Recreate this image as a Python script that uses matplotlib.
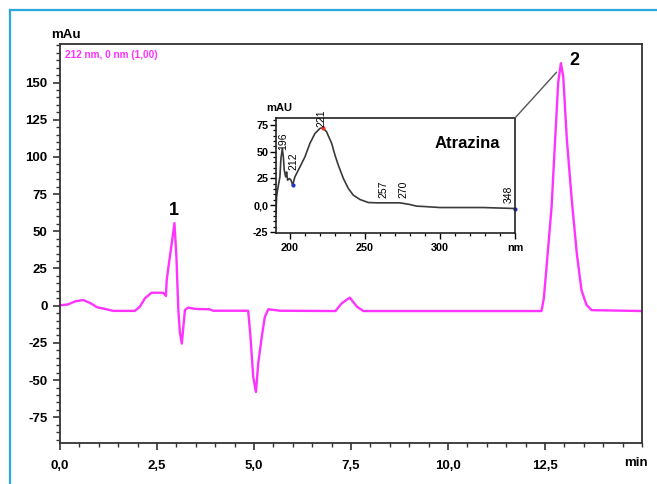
import matplotlib
matplotlib.use('Agg')
import matplotlib.pyplot as plt
from matplotlib.ticker import MultipleLocator, FuncFormatter, FixedLocator
from matplotlib.patches import ConnectionPatch
from matplotlib.lines import Line2D

plt.rcParams['font.family'] = ['Liberation Sans', 'DejaVu Sans']

# ---------------- data: chromatogram (212 nm) ----------------
time_min = [0.0, 0.2, 0.4, 0.6, 0.8, 0.95, 1.2, 1.37, 1.93, 2.06, 2.19, 2.36, 2.66,
            2.73, 2.75, 2.79, 2.88, 2.95, 3.00, 3.05, 3.09, 3.14, 3.18, 3.22, 3.30,
            3.50, 3.85, 3.95, 4.85, 4.91, 4.98, 5.05, 5.11, 5.20, 5.28, 5.37, 5.67,
            7.10, 7.26, 7.47, 7.65, 7.82, 12.41, 12.47, 12.54, 12.67, 12.76, 12.84,
            12.91, 12.97, 13.06, 13.19, 13.32, 13.44, 13.57, 13.70, 15.0]
signal_mau = [0.3, 0.8, 3.0, 3.8, 1.5, -1.0, -2.4, -3.5, -3.5, -0.6, 5.0, 8.7, 8.7,
              6.5, 17, 25, 42, 55.5, 33, -3, -18, -25.5, -14, -3, -1.3,
              -2.2, -2.4, -3.4, -3.4, -21, -48, -58, -38.5, -21, -7.4, -2.4, -3.4,
              -3.6, 1.6, 5.4, -0.6, -3.6, -3.6, 5, 26, 66.5, 111, 150,
              163, 154, 113, 71, 35, 10.5, 0.5, -3.0, -3.6]

peak_labels = ['1', '2']
peak_label_time = [2.94, 13.25]
peak_label_val = [64, 165]

main_xticks = [0.0, 2.5, 5.0, 7.5, 10.0, 12.5]
main_yticks = [-75, -50, -25, 0, 25, 50, 75, 100, 125, 150]

# ---------------- data: UV spectrum of Atrazina ----------------
wl_nm = [190.7, 191.1, 191.6, 193.3, 194.0, 194.9, 195.6, 196.2, 197.1, 197.8,
         198.4, 199.6, 200.7, 201.8, 203.3, 206.7, 210.0, 213.3, 216.7, 220.0,
         221.8, 224.4, 227.8, 230.0, 232.2, 235.6, 238.9, 242.2, 246.7, 252.2,
         257.8, 273.3, 280.0, 284.4, 288.9, 300.0, 328.9, 350.0]
absorb = [-7.8, 7.8, 13, 26.5, 43.7, 53, 45, 32.8, 26.5, 31,
          23.4, 24.9, 23.4, 18.7, 26.5, 35.9, 45.2, 57.8, 67.1, 71.8,
          72.4, 68.6, 57.8, 46.8, 37.5, 25, 15.6, 9.4, 5.3, 2.5,
          2.2, 2.2, 0.6, -0.9, -1.2, -2.2, -2.2, -3.1]

spec_labels = ['196', '212', '221', '257', '270', '348']
spec_label_x = [195.6, 202.2, 221.1, 262.2, 275.6, 345.6]
spec_label_y = [52.0, 32.5, 73.0, 6.5, 6.5, 2.0]

inset_xticks = [200, 250, 300, 350]
inset_xticklabels = ['200', '250', '300', 'nm']
inset_yticks = [-25, 0, 25, 50, 75]
inset_yticklabels = ['-25', '0,0', '25', '50', '75']

# ---------------- figure ----------------
W, H = 657, 484
fig = plt.figure(figsize=(W / 100, H / 100), dpi=100)

# blue frame (left and top)
blue = '#29A9E0'
fig.add_artist(Line2D([10 / W, 10 / W], [0, 1 - 10 / H], color=blue, lw=1.6))
fig.add_artist(Line2D([10 / W, 1], [1 - 10 / H, 1 - 10 / H], color=blue, lw=1.6))

ax = fig.add_axes([60 / W, 1 - 443 / H, (642 - 60) / W, (443 - 44) / H])
ax.plot(time_min, signal_mau, color='#FF33FF', lw=1.7, solid_joinstyle='round')
ax.set_xlim(0, 15)
ax.set_ylim(-92.3, 175.9)
ax.xaxis.set_major_locator(FixedLocator(main_xticks))
ax.xaxis.set_major_formatter(FuncFormatter(lambda v, p: f"{v:.1f}".replace('.', ',')))
ax.xaxis.set_minor_locator(MultipleLocator(0.5))
ax.yaxis.set_major_locator(FixedLocator(main_yticks))
ax.yaxis.set_major_formatter(FuncFormatter(lambda v, p: f"{v:.0f}"))
ax.yaxis.set_minor_locator(MultipleLocator(5))
for s in ax.spines.values():
    s.set_color('#333333')
    s.set_linewidth(1.3)
ax.tick_params(which='major', direction='out', length=5, width=1.2, color='#333333',
               labelsize=9.5, pad=4)
ax.tick_params(axis='x', which='major', pad=7)
ax.tick_params(which='minor', direction='out', length=3, width=1.0, color='#333333')
for lab in ax.get_xticklabels() + ax.get_yticklabels():
    lab.set_fontweight('bold')

for t, x, y in zip(peak_labels, peak_label_time, peak_label_val):
    ax.text(x, y, t, ha='center', va='center', fontsize=13, fontweight='bold')

ax.text(0.008, 0.985, '212 nm, 0 nm (1,00)', transform=ax.transAxes, color='#FF33FF',
        fontsize=7.2, fontweight='bold', ha='left', va='top')
fig.text(66 / W, 1 - 35 / H, 'mAu', ha='center', va='center', fontsize=9.5, fontweight='bold')
fig.text(636 / W, 1 - 463 / H, 'min', ha='center', va='center', fontsize=9.5, fontweight='bold')

# ---------------- inset ----------------
ax2 = fig.add_axes([276 / W, 1 - 233 / H, (515 - 276) / W, (233 - 118) / H])
ax2.plot(wl_nm, absorb, color='#3a3a3a', lw=1.2)
ax2.plot([201.8], [18.7], 'o', color='#2233cc', ms=2)
ax2.plot([221.8], [72.4], 'o', color='#ee3322', ms=2)
ax2.plot([350], [-3.1], 'o', color='#2233cc', ms=2, clip_on=False)
ax2.set_xlim(190.7, 350)
ax2.set_ylim(-26, 81.5)
ax2.xaxis.set_major_locator(FixedLocator(inset_xticks))
ax2.set_xticklabels(inset_xticklabels)
ax2.xaxis.set_minor_locator(MultipleLocator(10))
ax2.yaxis.set_major_locator(FixedLocator(inset_yticks))
ax2.set_yticklabels(inset_yticklabels)
ax2.yaxis.set_minor_locator(MultipleLocator(5))
for s in ax2.spines.values():
    s.set_color('#222222')
    s.set_linewidth(1.2)
ax2.tick_params(which='major', direction='out', length=4, width=1.0, labelsize=7.8, pad=1.5)
ax2.tick_params(axis='x', which='major', pad=3)
ax2.tick_params(which='minor', direction='out', length=2.5, width=0.9)
for lab in ax2.get_xticklabels() + ax2.get_yticklabels():
    lab.set_fontweight('bold')

for t, x, y in zip(spec_labels, spec_label_x, spec_label_y):
    ax2.text(x, y, t, rotation=90, ha='center', va='bottom', fontsize=7.5, clip_on=False)

ax2.text(318, 58, 'Atrazina', ha='center', va='center', fontsize=12, fontweight='bold')
fig.text(279 / W, 1 - 108 / H, 'mAU', ha='center', va='center', fontsize=8, fontweight='bold')

con = ConnectionPatch(xyA=(1, 1), coordsA=ax2.transAxes, xyB=(12.8, 157), coordsB=ax.transData,
                      color='#555555', lw=1.0)
fig.add_artist(con)

fig.savefig('out.png', dpi=100)
